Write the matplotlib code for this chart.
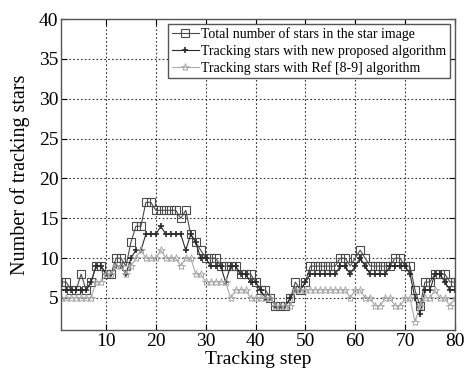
import matplotlib
matplotlib.use('Agg')
import matplotlib.pyplot as plt

steps = list(range(1, 81))

# total number of stars in the star image
total = [7,7,6,6,8,6,7,9,9,8, 8,10,10,9,12,14,14,17,17,16,
         16,16,16,16,15,16,13,12,11,10, 10,10,9,9,9,9,8,8,8,7,
         6,6,5,4,4,4,5,7,6,7, 9,9,9,9,9,9,10,10,9,10,
         11,10,9,9,9,9,9,10,10,9, 9,6,4,7,7,8,8,8,7,7]

# tracking stars, new proposed algorithm
new_alg = [6,6,6,6,6,6,7,9,9,8, 8,9,9,8,10,11,11,13,13,13,
           14,13,13,13,13,11,13,12,10,10, 9,9,9,7,9,9,8,8,7,7,
           6,5,5,4,4,4,5,6,6,7, 8,8,8,8,8,8,9,9,8,9,
           10,9,8,8,8,8,9,9,9,9, 8,5,3,6,6,8,8,7,6,6]

# tracking stars, Ref [8-9] algorithm
ref_alg = [5,5,5,5,5,5,5,7,7,8, 8,9,9,8,9,10,11,10,10,10,
           11,10,10,10,9,10,10,8,8,7, 7,7,7,7,5,6,6,6,5,5,
           5,5,5,4,4,4,4,6,6,6, 6,6,6,6,6,6,6,6,5,6,
           6,5,5,4,4,5,5,4,4,5, 5,2,4,5,5,6,5,5,4,5]

labels = ['Total number of stars in the star image',
          'Tracking stars with new proposed algorithm',
          'Tracking stars with Ref [8-9] algorithm']

plt.rcParams['font.family'] = ['Liberation Serif', 'DejaVu Serif']

fig = plt.figure(figsize=(4.67, 3.74), dpi=100)
ax = fig.add_axes([0.131, 0.118, 0.843, 0.831])

ax.plot(steps, total, color='#4a4a4a', lw=0.8, marker='s', ms=5.5,
        mfc='none', mec='#4a4a4a', mew=0.8, label=labels[0])
ax.plot(steps, new_alg, color='#2a2a2a', lw=0.8, marker='+', ms=5,
        mew=1.2, label=labels[1])
ax.plot(steps, ref_alg, color='#aaaaaa', lw=0.8, marker='*', ms=6,
        mfc='none', mec='#aaaaaa', mew=0.7, label=labels[2])

ax.set_xlim(1, 80)
ax.set_ylim(1, 40)
ax.set_xticks(range(10, 81, 10))
ax.set_yticks(range(5, 41, 5))
ax.grid(True, color='#333333', ls=(0, (1.5, 2)), lw=0.8)
ax.tick_params(direction='in', top=True, right=True, labelsize=14, length=4, pad=2)
for s in ax.spines.values():
    s.set_color('#555555')
    s.set_linewidth(1.0)

ax.set_xlabel('Tracking step', fontsize=14, labelpad=1)
ax.set_ylabel('Number of tracking stars', fontsize=14.5, labelpad=6)

leg = ax.legend(loc='upper right', fontsize=10, borderaxespad=0.35,
                handlelength=2.0, handletextpad=0.15, labelspacing=0.25,
                borderpad=0.25, fancybox=False, framealpha=1)
leg.get_frame().set_edgecolor('#555555')
leg.get_frame().set_linewidth(1.0)

fig.savefig('out.png', dpi=100)
